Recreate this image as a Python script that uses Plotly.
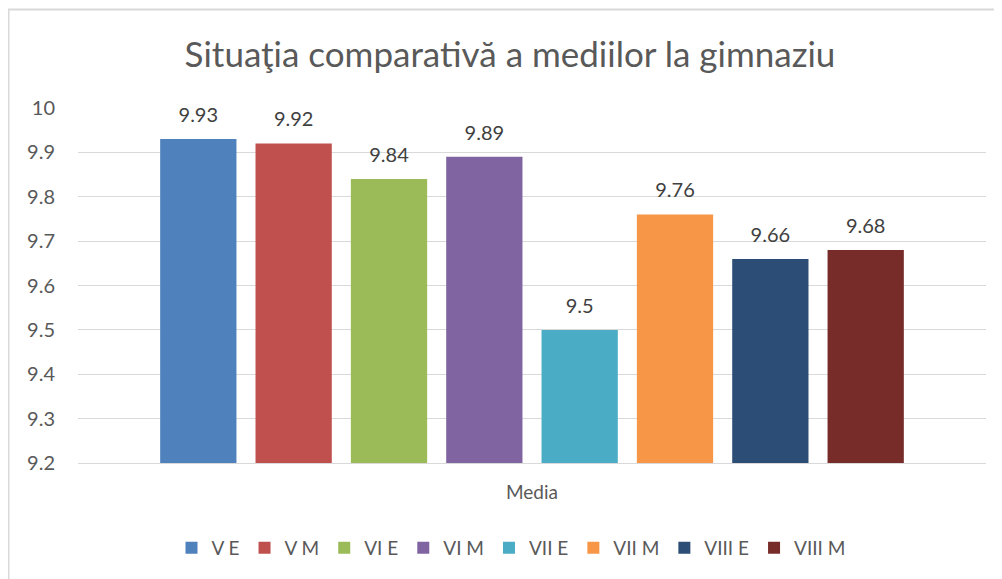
import plotly.graph_objects as go

category = ["Media"]
series_names = ["V E", "V M", "VI E", "VI M", "VII E", "VII M", "VIII E", "VIII M"]
series_values = [9.93, 9.92, 9.84, 9.89, 9.5, 9.76, 9.66, 9.68]
series_colors = ["#4F81BD", "#C0504D", "#9BBB59", "#8064A2", "#4BACC6", "#F79646", "#2C4D75", "#772C2A"]
y_ticks = [9.2, 9.3, 9.4, 9.5, 9.6, 9.7, 9.8, 9.9, 10]
y_tick_labels = ["9.2", "9.3", "9.4", "9.5", "9.6", "9.7", "9.8", "9.9", "10"]
title_text = "Situaţia comparativă a mediilor la gimnaziu"

FONT = "Lato"
fig = go.Figure()
for i, (name, val, col) in enumerate(zip(series_names, series_values, series_colors)):
    fig.add_trace(go.Bar(
        x=category, y=[val], name=name, offsetgroup=str(i),
        marker=dict(color=col, line=dict(width=0)),
    ))
for i, (name, val) in enumerate(zip(series_names, series_values)):
    fig.add_trace(go.Scatter(
        x=category, y=[val], name=name, offsetgroup=str(i), showlegend=False,
        mode="markers+text", marker=dict(size=18, opacity=0),
        text=[f"{val:g}"], textposition="top center",
        textfont=dict(family=FONT, size=20, color="#404040"),
        cliponaxis=False, hoverinfo="skip",
    ))

# page body has an 8px margin, so figure is drawn 8px right/down of the window corner
W, H = 994, 571
L, T = 70, 100
R = W - 978
B = H - 455
pw = W - L - R
ph = H - T - B

fig.update_layout(
    width=W, height=H,
    margin=dict(l=L, r=R, t=T, b=B, pad=0, autoexpand=False),
    paper_bgcolor="white", plot_bgcolor="white",
    barmode="group", bargap=0.16, bargroupgap=0.2,
    scattermode="group", scattergap=0.16,
    title=dict(text=title_text, x=502 / W, xanchor="center", y=1 - 47 / H, yanchor="middle",
               font=dict(family=FONT, size=35, color="#595959")),
    font=dict(family=FONT, color="#595959"),
    showlegend=True,
    legend=dict(orientation="h", x=(503 - L) / pw, xanchor="center",
                yref="container", y=1 - 540 / H, yanchor="middle",
                font=dict(family=FONT, size=19, color="#595959"),
                traceorder="normal", itemwidth=30),
    xaxis=dict(showgrid=False, showline=True, linecolor="#D9D9D9", linewidth=1,
               ticks="", tickfont=dict(family=FONT, size=19, color="#595959"),
               ticklabelstandoff=12, automargin=False),
    yaxis=dict(range=[9.2, 10], tickvals=y_ticks, ticktext=y_tick_labels,
               showgrid=True, gridcolor="#D9D9D9", gridwidth=1, zeroline=False,
               showline=False, ticks="", tickfont=dict(family=FONT, size=20, color="#595959"),
               ticklabelstandoff=22, automargin=False),
    shapes=[dict(type="rect", xref="paper", yref="paper",
                 x0=(0.5 - L) / pw, x1=(W + 10 - L) / pw,
                 y0=-(H + 10 - (T + ph)) / ph, y1=1 + (T - 1.5) / ph,
                 line=dict(color="#D9D9D9", width=2), fillcolor="rgba(0,0,0,0)", layer="below")],
)

fig.write_html("out.html")
